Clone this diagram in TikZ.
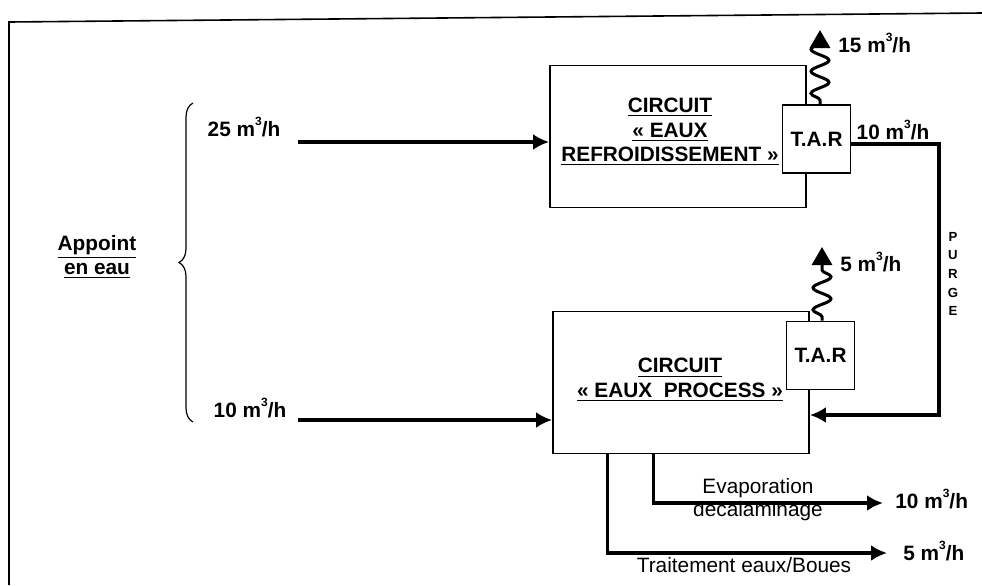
\documentclass[tikz,border=0pt]{standalone}
\usepackage{fontspec}
\setmainfont{Liberation Sans}
\usetikzlibrary{arrows.meta,positioning,calc,decorations.pathmorphing,decorations.pathreplacing}
\newcommand{\debit}[1]{#1~m\raisebox{0.95ex}{\fontsize{6}{6}\selectfont 3}/h}
\tikzset{
  circuitbox/.style={draw, line width=0.9pt, minimum width=128pt, minimum height=71pt, inner sep=0pt},
  tarbox/.style={draw, fill=white, line width=0.8pt, minimum size=34pt, inner sep=0pt,
    font=\fontsize{10.4}{12}\selectfont\bfseries},
  boxtext/.style={align=center, font=\fontsize{10.4}{12.2}\selectfont\bfseries, inner sep=1pt},
  rate/.style={font=\fontsize{10.4}{12}\selectfont\bfseries, inner sep=1pt},
  plaintext/.style={font=\fontsize{10.4}{12}\selectfont, inner sep=1pt},
  purgetext/.style={align=center, font=\fontsize{6.6}{9.3}\selectfont\bfseries, inner sep=0pt},
  flow/.style={-{Latex[length=8pt,width=8pt]}, line width=1.6pt},
  vapour/.style={-{Triangle[length=9pt,width=10pt]}, line width=1.5pt, decorate,
    decoration={snake, amplitude=4.5pt, segment length=11pt, pre length=2pt, post length=6pt}},
  bracket/.style={decorate, decoration={brace, amplitude=7pt}, line width=0.6pt},
  frame/.style={line width=0.8pt}
}
\begin{document}
\begin{tikzpicture}[x=0.5pt, y=-0.5pt]
\useasboundingbox (0,0) rectangle (982,585);
% cadre
\draw[frame] (9,585) -- (9,22) -- (982,13);

% circuits et tours
\node[circuitbox] (cool) at (678,136.5) {};
\node[circuitbox] (proc) at (681,382.5) {};
\node[tarbox] (cooltar) at (816.5,139) {T.A.R};
\node[tarbox] (proctar) at (820.5,355.5) {T.A.R};
\node[boxtext] (cooltxt) at (670,132) {\underline{CIRCUIT}\\\underline{« EAUX}\\\underline{REFROIDISSEMENT »}};
\node[boxtext] (proctxt) at (680,380) {\underline{CIRCUIT}\\\underline{« EAUX~~PROCESS »}};

% appoint en eau
\node[boxtext] (appoint) at (97,257) {\underline{Appoint}\\\underline{en eau}};
\draw[bracket] (193,422) -- (193,103);
\node[rate] (in1lbl) at (244,127) {\debit{25}};
\node[rate] (in2lbl) at (250,408) {\debit{10}};
\coordinate (in1) at (298,142);
\coordinate (in2) at (298,420);
\draw[flow] (in1) -- (cool.west |- in1);
\draw[flow] (in2) -- (proc.west |- in2);

% evaporation des T.A.R
\coordinate (coolvap) at (820,30);
\coordinate (procvap) at (822,247);
\draw[vapour] ([xshift=1.75pt]cooltar.north) -- (coolvap);
\draw[vapour] ([xshift=0.75pt]proctar.north) -- (procvap);
\node[rate, anchor=west] (coolvaplbl) at (836,43) {\debit{15}};
\node[rate, anchor=west] (procvaplbl) at (838,262) {\debit{5}};

% purge
\coordinate (purge) at (939,415);
\draw[flow] ([yshift=-2.5pt]cooltar.east) -| (purge) -- (proc.east |- purge);
\node[rate] (purgelbl) at (893,130) {\debit{10}};
\node[purgetext] (purgetxt) at (953,274) {P\\U\\R\\G\\E};

% sorties
\coordinate (evapout) at (883,503);
\coordinate (boueout) at (887,553);
\draw[flow] ([xshift=50.5pt]proc.south west) |- (evapout);
\draw[flow] ([xshift=27.5pt]proc.south west) |- (boueout);
\node[plaintext] (evap1) at (758,488) {Evaporation};
\node[plaintext] (evap2) at (758,511) {decalaminage};
\node[plaintext] (boue) at (744,565) {Traitement eaux/Boues};
\node[rate, anchor=west] (evaplbl) at (893,499) {\debit{10}};
\node[rate, anchor=west] (bouelbl) at (901,551) {\debit{5}};
\end{tikzpicture}
\end{document}
